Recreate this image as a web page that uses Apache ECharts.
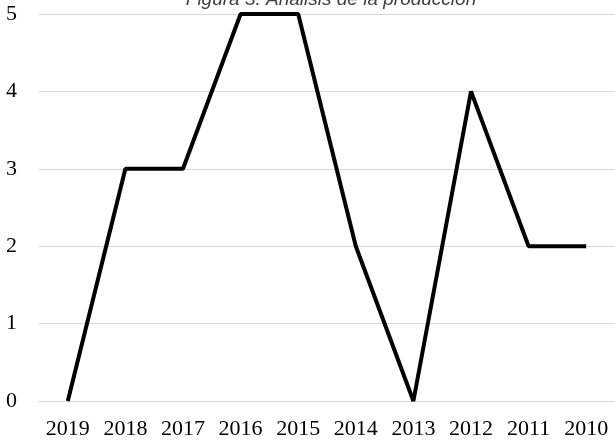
<!DOCTYPE html>
<html><head><meta charset="utf-8">
<script src="https://cdn.jsdelivr.net/npm/echarts@6/dist/echarts.min.js"></script>
<style>html,body{margin:0;padding:0;background:#fff}#c{width:615px;height:441px}</style>
</head><body><div id="c"></div>
<script>
const categories = ['2019','2018','2017','2016','2015','2014','2013','2012','2011','2010'];
const values = [0,3,3,5,5,2,0,4,2,2];
const titleText = 'Figura 3. Análisis de la producción';
const chart = echarts.init(document.getElementById('c'));
chart.setOption({
  animation: false,
  title: {text: titleText, left: 326, textAlign: 'center', top: -15,
    textStyle: {fontFamily: 'Liberation Sans', fontStyle: 'italic', fontWeight: 'normal', fontSize: 19, color: '#404040'}},
  grid: {left: 39, top: 14, width: 580, bottom: 40, containLabel: false},
  xAxis: {type: 'category', data: categories, boundaryGap: true,
    axisLine: {show: true, lineStyle: {color: '#d9d9d9'}}, axisTick: {show: false},
    axisLabel: {fontFamily: 'Liberation Serif', fontSize: 22, color: '#000', margin: 17, interval: 0}},
  yAxis: {type: 'value', min: 0, max: 5, interval: 1,
    axisLine: {show: false}, axisTick: {show: false},
    splitLine: {lineStyle: {color: '#d9d9d9', width: 1}},
    axisLabel: {fontFamily: 'Liberation Serif', fontSize: 22, color: '#000', margin: 22}},
  series: [{type: 'line', data: values, symbol: 'none', lineStyle: {color: '#000', width: 4}}]
});
</script></body></html>
